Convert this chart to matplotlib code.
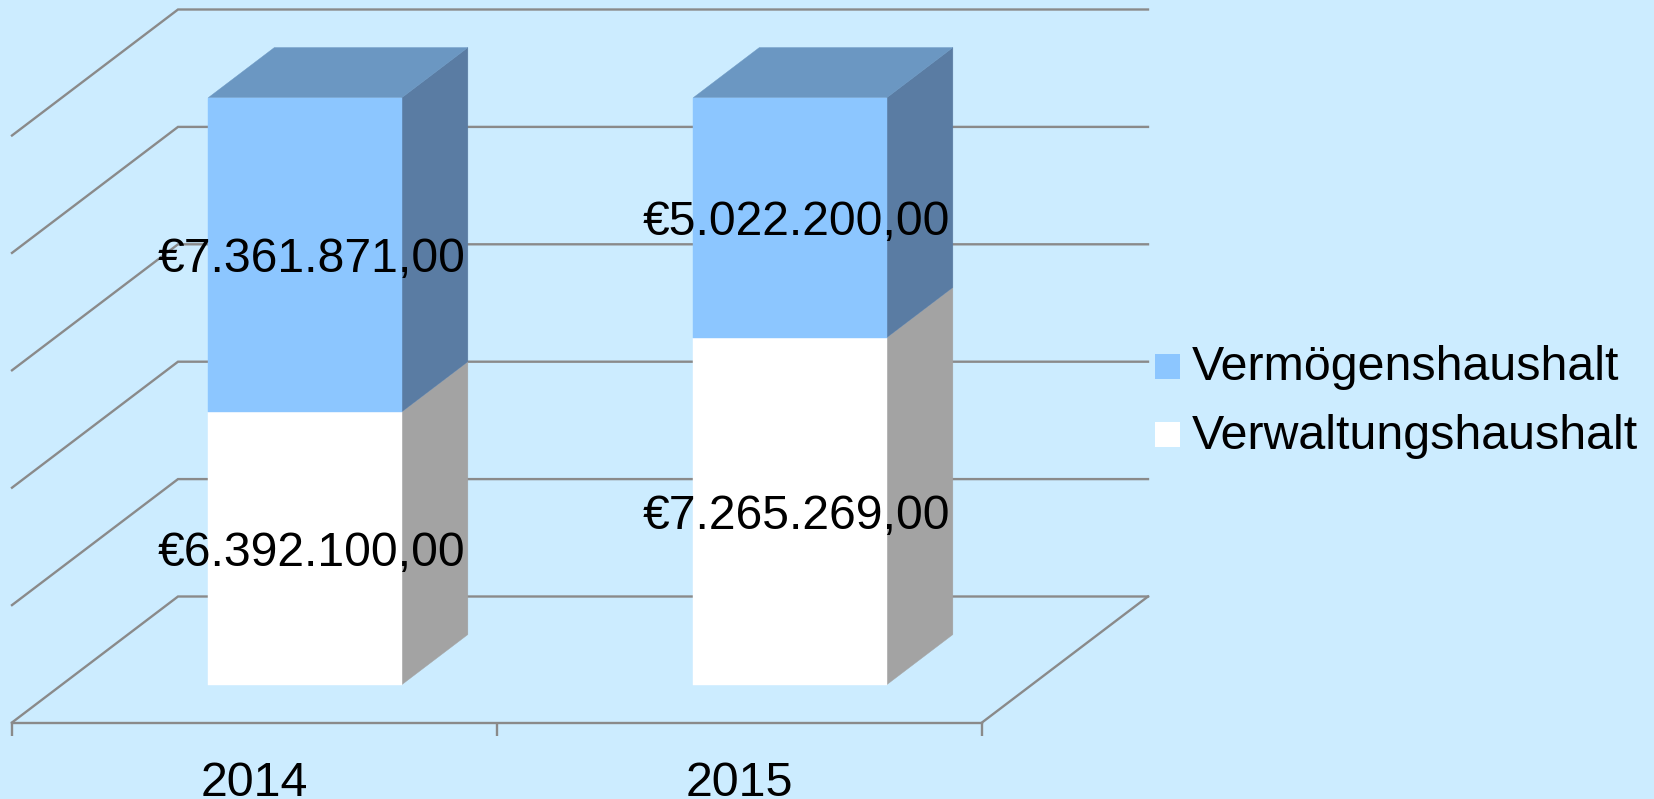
import matplotlib
matplotlib.use("Agg")
import matplotlib.pyplot as plt
from matplotlib.patches import Polygon, Patch, Rectangle
from matplotlib.legend_handler import HandlerPatch
import numpy as np

years = ["2014", "2015"]
verwaltung = [6392100.00, 7265269.00]
vermoegen = [7361871.00, 5022200.00]
verwaltung_labels = ["€6.392.100,00", "€7.265.269,00"]
vermoegen_labels = ["€7.361.871,00", "€5.022.200,00"]
grid_levels = [0, 20, 40, 60, 80, 100]

BG = "#CCECFF"
LINE = "#8A8A8A"
FS = 34.85
LW = 1.7
plt.rcParams["font.family"] = ["Liberation Sans", "DejaVu Sans"]

W, H = 1654, 799
fig = plt.figure(figsize=(W / 100, H / 100), dpi=100, facecolor=BG)
ax = fig.add_axes([12 / W, (H - 722.5) / H, 970 / W, 587 / H], facecolor="none")
ax.set_xlim(0, 2)
ax.set_ylim(0, 100)

# oblique projection: depth 0 (front) .. 1 (back)
DX, DY = 166 / 485, 126 / 5.87
def proj(x, p, d):
    return (x + DX * d, p + DY * d)

def face(pts, color, z):
    ax.add_patch(Polygon([proj(*q) for q in pts], closed=True, facecolor=color,
                         edgecolor=color, linewidth=0.3, zorder=z, clip_on=False))

# walls and floor
for p in grid_levels:
    xs, ys = zip(proj(0, p, 0), proj(0, p, 1), proj(2, p, 1))
    ax.plot(xs, ys, color=LINE, lw=LW, zorder=1, clip_on=False, solid_joinstyle="miter")
xs, ys = zip(proj(2, 0, 0), proj(2, 0, 1))
ax.plot(xs, ys, color=LINE, lw=LW, zorder=1, clip_on=False)

# bars
W_BAR, D0, D1 = 0.399, 0.3, 0.698
CENTER = 0.5015
series = [
    (verwaltung, verwaltung_labels, "#FFFFFF", "#A3A3A3", "#C4C4C4"),
    (vermoegen, vermoegen_labels, "#8CC6FF", "#5A7CA3", "#6B97C2"),
]
totals = np.array(verwaltung) + np.array(vermoegen)
for i in range(len(years)):
    x0 = i + CENTER - W_BAR / 2
    x1 = i + CENTER + W_BAR / 2
    base = 0.0
    for vals, labels, front, side, top in series:
        h = vals[i] / totals[i] * 100
        lo, hi = base, base + h
        face([(x1, lo, D0), (x1, lo, D1), (x1, hi, D1), (x1, hi, D0)], side, 3)
        face([(x0, hi, D0), (x1, hi, D0), (x1, hi, D1), (x0, hi, D1)], top, 3)
        face([(x0, lo, D0), (x1, lo, D0), (x1, hi, D0), (x0, hi, D0)], front, 4)
        cx, cy = proj(i + CENTER, (lo + hi) / 2, D0)
        ax.annotate(labels[i], (cx, cy), xytext=(4.5, -3.5), textcoords="offset points",
                    ha="center", va="center", fontsize=34.7, color="black",
                    zorder=6, annotation_clip=False)
        base = hi

# category axis
for s in ["left", "right", "top"]:
    ax.spines[s].set_visible(False)
ax.spines["bottom"].set_color(LINE)
ax.spines["bottom"].set_linewidth(LW)
ax.set_yticks([])
ax.set_xticks([0, 1, 2])
ax.set_xticklabels([])
ax.set_xticks([0.5, 1.5], minor=True)
ax.set_xticklabels(years, minor=True, fontsize=FS)
ax.tick_params(axis="x", which="major", length=9.4, width=LW, color=LINE, direction="out")
ax.tick_params(axis="x", which="minor", length=0, pad=27.5)

# legend
def swatch(legend, orig_handle, xdescent, ydescent, width, height, fontsize):
    return Rectangle((-xdescent, -ydescent - 2.3), width, height)

handles = [Patch(facecolor="#8CC6FF", linewidth=0, label="Vermögenshaushalt"),
           Patch(facecolor="#FFFFFF", linewidth=0, label="Verwaltungshaushalt")]
fig.legend(handles=handles, loc="center left", bbox_to_anchor=(1155 / W, (H - 402) / H),
           frameon=False, fontsize=FS, borderpad=0, borderaxespad=0,
           handlelength=0.515, handleheight=0.42, handletextpad=0.25, labelspacing=0.49,
           handler_map={Patch: HandlerPatch(patch_func=swatch)})

fig.savefig("out.png", dpi=100, facecolor=BG)
